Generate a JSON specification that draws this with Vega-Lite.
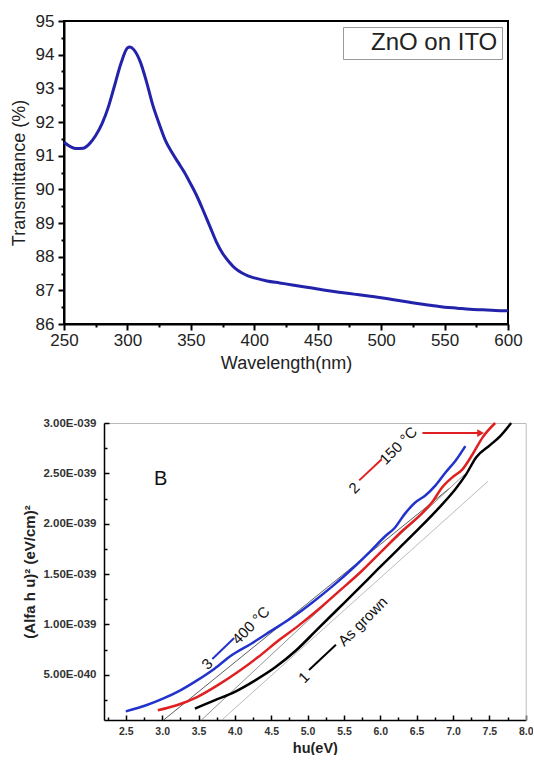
{
  "$schema": "https://vega.github.io/schema/vega-lite/v6.json",
  "background": "white",
  "padding": {"left": 9, "top": 11, "right": 0, "bottom": 0},
  "spacing": 44,
  "resolve": {"scale": {"color": "independent", "stroke": "independent"}, "legend": {"color": "independent", "stroke": "independent"}},
  "config": {
    "font": "Liberation Sans",
    "axis": {"grid": false, "domainColor": "#000", "tickColor": "#000", "labelFont": "Liberation Sans", "titleFont": "Liberation Sans", "labelFlush": false, "labelOverlap": false},
    "legend": {"labelFont": "Liberation Sans"}
  },
  "datasets": {
    "transmittance": [
      {"w":250,"T":91.4},{"w":255,"T":91.27},{"w":260,"T":91.21},{"w":265,"T":91.22},{"w":270,"T":91.35},{"w":275,"T":91.6},{"w":280,"T":91.95},{"w":285,"T":92.45},{"w":290,"T":93.1},{"w":295,"T":93.75},{"w":300,"T":94.2},{"w":302,"T":94.23},{"w":305,"T":94.15},{"w":310,"T":93.8},{"w":315,"T":93.2},{"w":320,"T":92.5},{"w":325,"T":91.95},{"w":330,"T":91.45},{"w":335,"T":91.1},{"w":340,"T":90.8},{"w":345,"T":90.5},{"w":350,"T":90.15},{"w":355,"T":89.78},{"w":360,"T":89.35},{"w":365,"T":88.9},{"w":370,"T":88.45},{"w":375,"T":88.1},{"w":380,"T":87.85},{"w":385,"T":87.65},{"w":390,"T":87.52},{"w":395,"T":87.43},{"w":400,"T":87.37},{"w":410,"T":87.28},{"w":420,"T":87.22},{"w":430,"T":87.16},{"w":440,"T":87.1},{"w":450,"T":87.04},{"w":460,"T":86.98},{"w":470,"T":86.93},{"w":480,"T":86.88},{"w":490,"T":86.83},{"w":500,"T":86.78},{"w":510,"T":86.72},{"w":520,"T":86.66},{"w":530,"T":86.6},{"w":540,"T":86.55},{"w":550,"T":86.5},{"w":560,"T":86.47},{"w":570,"T":86.44},{"w":580,"T":86.42},{"w":590,"T":86.4},{"w":600,"T":86.39}
    ],
    "curves": [
      {"e":2.5,"a":1.36e-40,"series":"400 °C"},{"e":2.78,"a":1.96e-40,"series":"400 °C"},{"e":3.01,"a":2.62e-40,"series":"400 °C"},{"e":3.25,"a":3.45e-40,"series":"400 °C"},{"e":3.48,"a":4.44e-40,"series":"400 °C"},{"e":3.72,"a":5.6e-40,"series":"400 °C"},{"e":3.95,"a":6.9e-40,"series":"400 °C"},{"e":4.23,"a":8.1e-40,"series":"400 °C"},{"e":4.51,"a":9.4e-40,"series":"400 °C"},{"e":4.79,"a":1.07e-39,"series":"400 °C"},{"e":5.07,"a":1.22e-39,"series":"400 °C"},{"e":5.36,"a":1.39e-39,"series":"400 °C"},{"e":5.64,"a":1.57e-39,"series":"400 °C"},{"e":5.87,"a":1.73e-39,"series":"400 °C"},{"e":6.06,"a":1.87e-39,"series":"400 °C"},{"e":6.2,"a":1.96e-39,"series":"400 °C"},{"e":6.34,"a":2.1e-39,"series":"400 °C"},{"e":6.48,"a":2.21e-39,"series":"400 °C"},{"e":6.62,"a":2.28e-39,"series":"400 °C"},{"e":6.76,"a":2.38e-39,"series":"400 °C"},{"e":6.9,"a":2.51e-39,"series":"400 °C"},{"e":7.04,"a":2.63e-39,"series":"400 °C"},{"e":7.17,"a":2.77e-39,"series":"400 °C"},
      {"e":2.94,"a":1.46e-40,"series":"150 °C"},{"e":3.2,"a":1.96e-40,"series":"150 °C"},{"e":3.48,"a":2.78e-40,"series":"150 °C"},{"e":3.76,"a":3.94e-40,"series":"150 °C"},{"e":4.04,"a":5.27e-40,"series":"150 °C"},{"e":4.32,"a":6.75e-40,"series":"150 °C"},{"e":4.6,"a":8.4e-40,"series":"150 °C"},{"e":4.88,"a":9.9e-40,"series":"150 °C"},{"e":5.16,"a":1.155e-39,"series":"150 °C"},{"e":5.45,"a":1.34e-39,"series":"150 °C"},{"e":5.73,"a":1.52e-39,"series":"150 °C"},{"e":6.01,"a":1.72e-39,"series":"150 °C"},{"e":6.29,"a":1.92e-39,"series":"150 °C"},{"e":6.57,"a":2.1e-39,"series":"150 °C"},{"e":6.71,"a":2.21e-39,"series":"150 °C"},{"e":6.85,"a":2.36e-39,"series":"150 °C"},{"e":6.99,"a":2.46e-39,"series":"150 °C"},{"e":7.13,"a":2.54e-39,"series":"150 °C"},{"e":7.27,"a":2.69e-39,"series":"150 °C"},{"e":7.41,"a":2.86e-39,"series":"150 °C"},{"e":7.58,"a":3.0e-39,"series":"150 °C"},
      {"e":3.45,"a":1.63e-40,"series":"As grown"},{"e":3.72,"a":2.45e-40,"series":"As grown"},{"e":4.0,"a":3.3e-40,"series":"As grown"},{"e":4.28,"a":4.44e-40,"series":"As grown"},{"e":4.56,"a":5.76e-40,"series":"As grown"},{"e":4.84,"a":7.4e-40,"series":"As grown"},{"e":5.12,"a":9.4e-40,"series":"As grown"},{"e":5.4,"a":1.14e-39,"series":"As grown"},{"e":5.68,"a":1.34e-39,"series":"As grown"},{"e":5.97,"a":1.55e-39,"series":"As grown"},{"e":6.25,"a":1.75e-39,"series":"As grown"},{"e":6.53,"a":1.95e-39,"series":"As grown"},{"e":6.81,"a":2.16e-39,"series":"As grown"},{"e":7.04,"a":2.35e-39,"series":"As grown"},{"e":7.18,"a":2.49e-39,"series":"As grown"},{"e":7.32,"a":2.66e-39,"series":"As grown"},{"e":7.51,"a":2.78e-39,"series":"As grown"},{"e":7.65,"a":2.87e-39,"series":"As grown"},{"e":7.8,"a":3.0e-39,"series":"As grown"}
    ],
    "fits": [
      {"e":3.02,"a":5e-41,"fit":"400 °C"},{"e":6.95,"a":2.35e-39,"fit":"400 °C"},
      {"e":3.54,"a":5e-41,"fit":"150 °C"},{"e":7.16,"a":2.49e-39,"fit":"150 °C"},
      {"e":3.82,"a":5e-41,"fit":"As grown"},{"e":7.48,"a":2.42e-39,"fit":"As grown"}
    ],
    "markers": [
      {"e":3.69,"a":6.56e-40,"e2":3.99,"a2":8.64e-40,"series":"400 °C"},
      {"e":5.02,"a":5.47e-40,"e2":5.39,"a2":7.98e-40,"series":"As grown"},
      {"e":5.71,"a":2.43e-39,"e2":6.02,"a2":2.64e-39,"series":"150 °C"}
    ],
    "labels": [
      {"e":3.62,"a":6.06e-40,"text":"3"},
      {"e":4.22,"a":9.9e-40,"text":"400 °C"},
      {"e":4.95,"a":4.73e-40,"text":"1"},
      {"e":5.76,"a":1.03e-39,"text":"As grown"},
      {"e":5.64,"a":2.355e-39,"text":"2"},
      {"e":6.25,"a":2.775e-39,"text":"150 °C"}
    ],
    "arrow": [
      {"e":6.58,"a":2.9e-39,"e2":7.38,"a2":2.9e-39}
    ],
    "panel": [
      {"e":2.98,"a":2.44e-39,"text":"B"}
    ]
  },
  "vconcat": [
    {
      "width": 444,
      "height": 303,
      "view": {"stroke": "#000", "strokeWidth": 2},
      "data": {"name": "transmittance"},
      "layer": [
        {
          "mark": {"type": "line", "strokeWidth": 3, "interpolate": "monotone"},
          "encoding": {
            "x": {"field": "w", "type": "quantitative", "scale": {"domain": [250, 600], "nice": false, "zero": false},
              "axis": {"orient": "bottom", "values": [250,300,350,400,450,500,550,600], "labelOverlap": false, "title": "Wavelength(nm)", "tickSize": 6, "tickWidth": 2, "domainWidth": 2, "labelFontSize": 17, "labelColor": "#222", "labelPadding": 2, "titleFontSize": 18, "titleFontWeight": "normal", "titleColor": "#222", "titlePadding": 6}},
            "y": {"field": "T", "type": "quantitative", "scale": {"domain": [86, 95], "nice": false, "zero": false},
              "axis": {"orient": "left", "values": [86,87,88,89,90,91,92,93,94,95], "labelOverlap": false, "title": "Transmittance (%)", "tickSize": 6, "tickWidth": 2, "domainWidth": 2, "labelFontSize": 17, "labelColor": "#222", "labelPadding": 4, "titleFontSize": 18, "titleFontWeight": "normal", "titleColor": "#222", "titlePadding": 7}},
            "color": {"datum": "ZnO on ITO", "scale": {"range": ["#2222aa"]},
              "legend": {"title": null, "orient": "top-right", "offset": 6, "strokeColor": "#999", "fillColor": "white", "padding": 4, "labelFontSize": 24, "labelColor": "#222", "symbolSize": 0, "symbolOpacity": 0, "symbolStrokeWidth": 0, "labelOffset": 0, "labelExpr": "'\u00a0\u00a0' + datum.label + '\u00a0\u00a0'"}}
          }
        },
        {
          "mark": {"type": "point", "opacity": 0},
          "encoding": {
            "x": {"field": "w", "type": "quantitative", "axis": {"orient": "bottom", "values": [275,325,375,425,475,525,575], "labels": false, "domain": false, "title": null, "tickSize": 3, "tickWidth": 2}},
            "y": {"field": "T", "type": "quantitative", "axis": {"orient": "left", "values": [86.5,87.5,88.5,89.5,90.5,91.5,92.5,93.5,94.5], "labels": false, "domain": false, "title": null, "tickSize": 3, "tickWidth": 2}}
          }
        }
      ],
      "resolve": {"axis": {"x": "independent", "y": "independent"}}
    },
    {
      "width": 461.7,
      "height": 297,
      "view": {"stroke": null},
      "layer": [
        {
          "data": {"name": "fits"},
          "mark": {"type": "line", "strokeWidth": 0.8},
          "encoding": {
            "x": {"field": "e", "type": "quantitative", "scale": {"domain": [2.2, 8.0], "nice": false, "zero": false, "range": [40, 461.7]},
              "axis": {"orient": "bottom", "values": [2.5,3,3.5,4,4.5,5,5.5,6,6.5,7,7.5,8], "labelOverlap": false, "format": ".1f", "title": "hu(eV)", "tickSize": -5, "tickWidth": 1.5, "domainWidth": 1.5, "labelFontSize": 10.5, "labelFontWeight": "bold", "labelColor": "#333", "labelPadding": 11, "titleFontSize": 14.5, "titleFontWeight": "bold", "titleColor": "#222", "titlePadding": 5}},
            "y": {"field": "a", "type": "quantitative", "scale": {"domain": [5e-41, 3e-39], "nice": false, "zero": false},
              "axis": {"orient": "left", "offset": -40, "values": [5e-40, 1e-39, 1.5e-39, 2e-39, 2.5e-39, 3e-39], "labelOverlap": false, "labelExpr": "datum.value < 9e-40 ? format(datum.value * 1e40, '.2f') + 'E-040' : format(datum.value * 1e39, '.2f') + 'E-039'", "title": "(Alfa h u)² (eV/cm)²", "tickSize": -5, "tickWidth": 1.5, "domainWidth": 1.5, "labelFontSize": 11.5, "labelFontWeight": "bold", "labelColor": "#333", "labelPadding": 13, "titleFontSize": 15, "titleFontWeight": "bold", "titleColor": "#222", "titlePadding": 5}},
            "color": {"field": "fit", "type": "nominal", "scale": {"domain": ["400 °C", "150 °C", "As grown"], "range": ["#333333", "#777777", "#aaaaaa"]}, "legend": null}
          }
        },
        {
          "data": {"name": "curves"},
          "mark": {"type": "line", "strokeWidth": 2.5, "interpolate": "monotone"},
          "encoding": {
            "x": {"field": "e", "type": "quantitative", "axis": null},
            "y": {"field": "a", "type": "quantitative", "axis": null},
            "stroke": {"field": "series", "type": "nominal", "scale": {"domain": ["400 °C", "150 °C", "As grown"], "range": ["#2233cc", "#e02020", "#000000"]}, "legend": null}
          }
        },
        {
          "data": {"name": "markers"},
          "mark": {"type": "rule", "strokeWidth": 2},
          "encoding": {
            "x": {"field": "e", "type": "quantitative", "axis": null},
            "y": {"field": "a", "type": "quantitative", "axis": null},
            "x2": {"field": "e2"},
            "y2": {"field": "a2"},
            "stroke": {"field": "series", "type": "nominal", "legend": null}
          }
        },
        {
          "data": {"name": "arrow"},
          "mark": {"type": "rule", "strokeWidth": 2, "color": "#e02020"},
          "encoding": {
            "x": {"field": "e", "type": "quantitative", "axis": null},
            "y": {"field": "a", "type": "quantitative", "axis": null},
            "x2": {"field": "e2"},
            "y2": {"field": "a2"}
          }
        },
        {
          "data": {"name": "arrow"},
          "mark": {"type": "point", "shape": "triangle-right", "filled": true, "size": 60, "color": "#e02020", "opacity": 1},
          "encoding": {
            "x": {"field": "e2", "type": "quantitative", "axis": null},
            "y": {"field": "a2", "type": "quantitative", "axis": null}
          }
        },
        {
          "data": {"name": "labels"},
          "mark": {"type": "text", "angle": 315, "fontSize": 15, "color": "#111", "align": "center", "baseline": "middle"},
          "encoding": {
            "x": {"field": "e", "type": "quantitative", "axis": null},
            "y": {"field": "a", "type": "quantitative", "axis": null},
            "text": {"field": "text"}
          }
        },
        {
          "data": {"name": "panel"},
          "mark": {"type": "text", "fontSize": 20, "color": "#111", "align": "center", "baseline": "middle"},
          "encoding": {
            "x": {"field": "e", "type": "quantitative", "axis": null},
            "y": {"field": "a", "type": "quantitative", "axis": null},
            "text": {"field": "text"}
          }
        },
        {
          "data": {"name": "fits"},
          "mark": {"type": "point", "opacity": 0},
          "encoding": {
            "x": {"field": "e", "type": "quantitative", "axis": {"orient": "bottom", "values": [2.25,2.75,3.25,3.75,4.25,4.75,5.25,5.75,6.25,6.75,7.25,7.75], "labels": false, "domain": false, "title": null, "tickSize": -3, "tickWidth": 1.5}},
            "y": {"field": "a", "type": "quantitative", "axis": {"orient": "left", "offset": -40, "values": [2.5e-40, 7.5e-40, 1.25e-39, 1.75e-39, 2.25e-39, 2.75e-39], "labels": false, "domain": false, "title": null, "tickSize": -3, "tickWidth": 1.5}}
          }
        },
        {
          "data": {"name": "fits"},
          "mark": {"type": "point", "opacity": 0},
          "encoding": {
            "x": {"field": "e", "type": "quantitative", "axis": {"orient": "top", "domain": true, "domainColor": "#bbbbbb", "domainWidth": 1, "ticks": false, "labels": false, "title": null}},
            "y": {"field": "a", "type": "quantitative", "axis": {"orient": "right", "domain": true, "domainColor": "#bbbbbb", "domainWidth": 1, "ticks": false, "labels": false, "title": null}}
          }
        }
      ],
      "resolve": {"axis": {"x": "independent", "y": "independent"}}
    }
  ]
}
